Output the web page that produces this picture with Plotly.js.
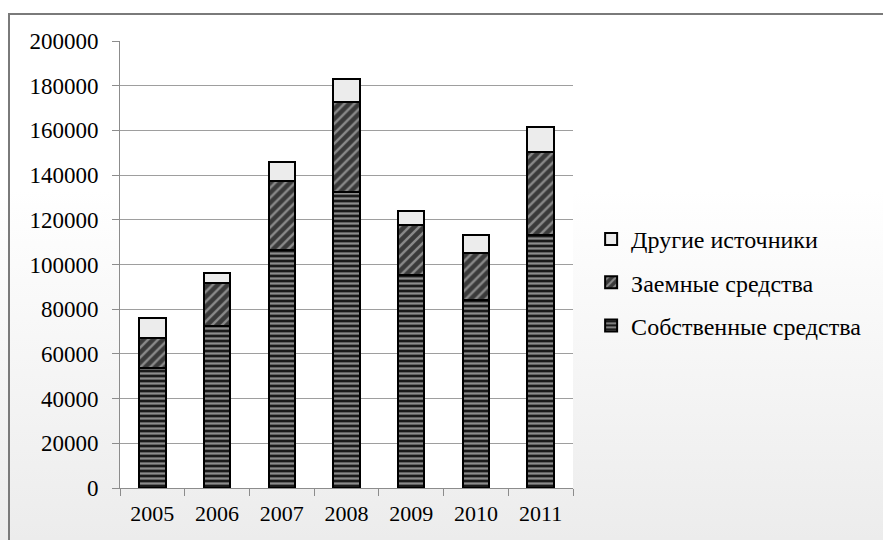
<!DOCTYPE html>
<html>
<head>
<meta charset="utf-8">
<script src="https://cdn.plot.ly/plotly-3.0.1.min.js"></script>
<style>
html,body{margin:0;padding:0;width:883px;height:540px;overflow:hidden;background:#fff;}
#wrap{position:absolute;left:0;top:0;width:883px;height:540px;
  background:linear-gradient(to bottom,#ffffff 0%,#ffffff 35%,#ececec 100%);}
#frame{position:absolute;left:8px;top:13px;width:900px;height:560px;border:2px solid #7a7a7a;box-sizing:border-box;pointer-events:none;}
#chart{position:absolute;left:0;top:0;width:883px;height:540px;}
</style>
</head>
<body>
<div id="wrap"></div>
<div id="chart"></div>
<div id="frame"></div>
<script>
const years = ['2005','2006','2007','2008','2009','2010','2011'];
const own = [53600, 72500, 106500, 132500, 95500, 84200, 113300];
const loans = [13500, 19200, 31000, 40000, 22200, 20800, 37100];
const other = [9100, 4600, 8200, 10700, 6300, 8000, 10900];
const names = ['Собственные средства','Заемные средства','Другие источники'];
const yTicks = [0,20000,40000,60000,80000,100000,120000,140000,160000,180000,200000];

const lineStyle = {color:'#000', width:2};
const traces = [
  {x: years, y: own, name: names[0], type:'bar', legendgroup:'a', legendrank:3,
   marker:{color:'#1a1a1a', line:lineStyle,
     pattern:{shape:'-', bgcolor:'#1a1a1a', fgcolor:'#8c8c8c', size:5, solidity:0.45}}},
  {x: years, y: loans, name: names[1], type:'bar', legendgroup:'b', legendrank:2,
   marker:{color:'#3a3a3a', line:lineStyle,
     pattern:{shape:'/', bgcolor:'#3a3a3a', fgcolor:'#8a8a8a', size:7, solidity:0.35}}},
  {x: years, y: other, name: names[2], type:'bar', legendgroup:'c', legendrank:1,
   marker:{color:'#ececec', line:lineStyle}}
];

const serif = 'Liberation Serif';
const layout = {
  width:883, height:540,
  barmode:'stack', bargap:0.59,
  paper_bgcolor:'rgba(0,0,0,0)', plot_bgcolor:'#ffffff',
  margin:{l:120, r:310, t:41, b:52},
  font:{family:serif, size:22, color:'#000'},
  xaxis:{type:'category', tickson:'boundaries', ticks:'outside', ticklen:7, tickcolor:'#8c8c8c',
    ticklabelstandoff:6, tickangle:0,
    showline:true, linecolor:'#8c8c8c', linewidth:1, showgrid:false,
    tickfont:{family:serif, size:22}, fixedrange:true},
  yaxis:{range:[0,200000], tickvals:yTicks, ticktext:yTicks.map(String),
    ticks:'outside', ticklen:7, tickcolor:'#8c8c8c', ticklabelstandoff:9,
    showline:true, linecolor:'#8c8c8c', linewidth:1,
    gridcolor:'#9e9e9e', gridwidth:1, zeroline:false,
    tickfont:{family:serif, size:23}, fixedrange:true},
  legend:{x:1.04, y:0.46, xanchor:'left', yanchor:'middle', traceorder:'grouped',
    tracegroupgap:9, font:{family:serif, size:24}, bgcolor:'rgba(0,0,0,0)', itemwidth:30},
  showlegend:true
};
Plotly.newPlot('chart', traces, layout, {staticPlot:true, displayModeBar:false});
</script>
</body>
</html>
